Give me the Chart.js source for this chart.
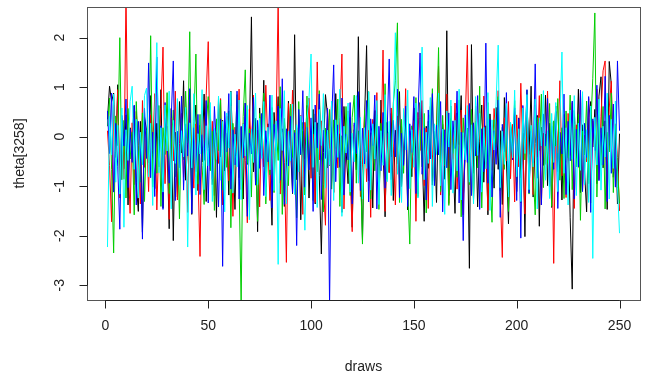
<!DOCTYPE html>
<html>
<head>
<meta charset="utf-8">
<script src="https://cdn.jsdelivr.net/npm/chart.js@4.4.1/dist/chart.umd.min.js"></script>
<style>
  body { margin: 0; background: #fff; }
  canvas { display: block; }
</style>
</head>
<body>
<canvas id="myChart" width="652" height="381"></canvas>
<script>
// trace of theta[3258], 5 chains x 250 draws
const xTicks = [0, 50, 100, 150, 200, 250];
const yTicks = [-3, -2, -1, 0, 1, 2];
const chainColors = ['#000000', '#ff0000', '#00cd00', '#0000ff', '#00ffff'];

const chain1 = [
  0.35, 1.02, 0.71, 0.88, -0.42, 1.05, -1.12, 0.21, -0.65, 0.44, -1.38, 0.18, -0.05, 0.62, -0.92, -1.51, 0.31, -1.93, 0.40, 0.12, -0.48, 0.83, -0.36, -1.05, 0.27,
  -0.61, 0.95, -1.44, 0.38, -0.19, -1.86, 0.57, -2.10, 0.09, -1.22, 0.71, -0.33, 1.13, -0.88, -0.15, 0.46, -1.57, -0.02, 0.64, -1.09, 0.23, -0.51, 0.86, -1.31, -0.24,
  0.52, -0.97, 0.15, -1.63, 0.78, -0.41, 0.33, -0.69, 0.07, -1.18, 0.92, -0.29, -1.47, 0.41, -0.83, 0.19, -1.26, 0.68, -0.56, 0.04, 2.42, -0.71, 0.37, -1.92, 0.58,
  -0.38, 1.14, -1.02, 0.26, -0.63, -1.79, 0.49, -0.12, 0.81, -0.94, 0.16, -1.41, -0.53, 0.72, -0.21, -1.15, 2.06, -0.87, 0.34, -1.68, 0.11, -0.45, 0.63, -1.24, -0.07,
  0.55, -1.36, 0.28, -0.79, -2.37, -0.32, 0.85, 0.43, -0.58, 0.19, -1.12, 0.87, -0.44, 0.06, -1.53, 0.61, -0.26, -0.95, 0.39, -1.83, 0.14, -0.67, 2.02, -0.48, -2.08,
  0.32, 1.84, -0.89, 0.08, -1.44, 0.53, -0.37, -1.07, 0.74, -0.18, -1.62, 0.29, -0.72, 0.47, -1.29, 0.13, -0.55, 0.91, -1.01, -0.23, 0.36, -1.48, 0.02, -0.81, 0.58,
  -0.43, -1.16, 0.69, -0.27, -1.71, 0.21, -0.64, 0.44, -0.98, 0.11, -1.33, 0.76, -0.52, 0.25, -0.86, 2.14, -1.19, 0.37, -0.41, -1.55, 0.48, -0.16, 0.83, -1.27, -0.34,
  0.17, -2.66, 1.86, -0.74, 0.31, -1.42, -0.09, 0.64, -0.92, 0.22, -1.58, 0.46, -0.31, -1.04, 0.59, -0.66, 0.12, -1.37, 0.79, -0.47, -1.76, 0.26, -0.19, 0.51, -1.11,
  0.38, -0.83, 0.07, -2.02, 0.68, -0.36, 1.02, -1.22, -0.14, 0.43, -1.81, 0.19, -0.58, 0.84, -0.99, 0.27, -1.43, -0.25, 0.62, -0.71, 0.09, -1.28, 0.45, -0.52, 0.18,
  -1.64, -3.08, 0.53, -0.44, 0.96, -1.13, 0.24, -0.69, -1.52, 0.39, 0.71, -0.21, 0.55, -0.95, 0.82, 1.21, -0.63, 0.32, -1.47, 1.52, 1.06, -0.82, 0.14, -1.36, 0.06
];
const chain2 = [
  0.12, -0.58, -1.72, 0.64, -0.31, 0.95, -1.24, 0.37, -0.86, 2.90, -0.43, -1.55, 0.28, -0.97, 0.51, -0.18, -1.36, 0.73, -0.62, 0.06, -1.11, 0.44, -0.29, 0.87, -1.48,
  -0.07, 0.59, 1.81, -0.95, 0.21, -1.67, 0.38, -0.49, 0.92, -1.28, -0.14, 0.47, -0.82, 0.15, -1.53, 0.69, -0.36, -1.04, 0.26, -0.71, -2.42, 0.53, -0.22, 0.83, 1.92,
  -0.66, 0.31, -1.19, 0.08, -0.54, 0.77, -1.38, -0.12, 0.41, -0.89, 0.62, -1.61, 0.19, -0.33, 0.96, -1.07, 0.27, -0.48, -1.74, 0.55, -0.25, 0.84, -0.93, 0.13, -1.42,
  0.36, -0.61, 1.04, -0.17, -1.29, 0.48, -0.76, 0.22, 2.75, -1.16, 0.09, -0.52, -2.54, 0.67, -0.38, 0.94, -1.02, 0.18, -0.69, 0.43, -1.57, 0.29, -0.11, 0.78, -0.84,
  0.05, -1.33, 1.51, -0.47, 0.32, -0.96, -1.79, 0.58, -0.24, 0.71, -1.14, 0.16, -0.63, 0.39, 1.67, -1.46, -0.08, 0.52, -0.78, -1.92, 0.24, -0.35, 0.81, -1.21, -0.57,
  0.46, -0.91, 0.13, -1.63, 0.35, -0.42, 0.89, -1.09, -0.26, 1.75, -1.51, 0.07, -0.73, 0.58, -0.19, -1.38, 0.42, -0.87, 0.21, -0.55, 0.97, -1.24, 0.11, -0.64, 0.33,
  -1.71, 0.49, -0.28, 0.73, -0.99, 0.17, -1.45, 0.61, -0.37, -0.83, 0.28, 1.42, -1.18, 0.04, -0.59, 0.86, -1.35, 0.23, -0.46, 0.68, -1.06, -0.21, 0.54, -1.58, 0.31,
  1.85, -0.77, 0.14, -1.27, 0.62, -0.53, 0.35, -1.03, 0.82, -0.32, -1.49, 0.19, -0.68, 0.57, -0.14, 0.93, -1.12, -2.44, 0.38, -0.49, 0.71, -0.85, 0.25, -1.32, 0.44,
  -0.61, 1.08, -0.27, -1.56, 0.36, -0.72, 0.15, -1.17, 0.64, -0.41, 0.83, -1.38, 0.07, -0.56, 0.92, -0.94, 0.29, -2.56, 0.51, -0.33, 1.13, -0.79, 0.18, -1.23, 0.47,
  -0.38, 0.69, -1.45, 0.24, -0.62, 0.88, -1.09, 0.03, -0.51, 0.77, -1.34, 0.32, -0.18, 0.96, -0.87, 0.41, 1.33, 1.53, -1.26, 0.58, 1.12, -0.71, 0.26, -0.42, -1.50
];
const chain3 = [
  0.21, 0.78, -0.66, -2.35, 0.42, -0.18, 2.00, -0.87, 0.33, -1.24, 0.57, -0.45, 0.09, -1.58, 0.71, -0.29, -0.92, 0.48, -1.31, 0.14, -0.53, 2.04, -1.02, 0.26, -0.74,
  0.63, -1.41, 0.18, -0.36, 0.89, -1.15, -0.22, 0.54, -0.81, 0.07, -1.66, 0.38, -0.47, 0.92, -0.13, 2.12, -1.27, 0.31, 1.67, -0.96, 0.45, -0.58, -1.37, 0.22, 0.81,
  -0.69, 0.11, -1.49, 0.36, -0.28, 0.74, -1.08, 0.19, -0.62, 0.52, -1.84, 0.27, -0.39, 0.85, -0.91, -3.40, 0.41, 1.35, -0.54, 0.16, -1.22, 0.63, -0.33, -1.71, 0.47,
  -0.19, 0.88, -1.36, 0.05, -0.77, 0.59, -1.13, 0.24, -0.48, 1.01, -1.57, 0.37, -0.25, -0.99, 0.66, -0.42, 0.13, -1.64, 0.71, -0.37, 0.29, -1.18, 0.82, -0.56, 0.08,
  -1.29, 0.46, -0.71, 0.93, -0.35, -1.52, 0.17, -0.63, 0.55, -1.06, 0.34, -0.24, 0.76, -1.41, 0.02, -0.83, 0.61, -0.47, -1.19, 0.39, 0.84, -0.94, 0.12, -0.58, -2.17,
  0.53, -0.31, 0.91, -1.26, 0.18, -0.69, 0.44, -1.47, 0.27, -0.52, 1.07, -0.86, 0.09, -0.41, 0.68, 1.13, 2.30, -1.33, 0.35, -0.74, 0.57, -1.05, -2.17, 0.22, -0.38,
  0.79, -1.21, 0.14, -0.61, 0.47, -1.54, 0.31, -0.26, 0.97, -0.89, 0.06, 1.80, -1.11, 0.43, -0.57, 0.25, -1.39, 0.62, -0.34, 0.11, -0.82, 0.74, -1.62, 0.38, -0.45,
  0.16, -0.97, 0.55, -1.28, 0.29, -0.63, 1.02, -1.44, 0.07, -0.51, 0.69, -0.84, -1.73, 0.34, -0.22, 0.81, -1.09, 0.19, -0.66, 0.46, -1.51, 0.28, -0.36, 0.73, -0.92,
  0.13, -1.34, 0.58, -0.47, 0.94, -1.16, 0.21, -0.72, -1.58, 0.39, -0.28, 0.86, -1.03, 0.05, -0.54, 0.67, -1.41, 0.32, -0.19, 0.77, -0.88, 0.18, -1.25, 0.52, -0.43,
  0.84, -1.07, 0.26, -0.61, 0.45, -1.69, 0.11, -0.37, 0.72, -0.95, 0.18, 1.18, 2.50, -1.22, 0.34, -0.58, 0.61, -1.46, 0.09, -0.31, 0.88, -1.13, 0.23, -0.67, -1.35
];
const chain4 = [
  0.52, -0.34, 0.88, -1.12, 0.27, -0.61, -1.87, 0.43, -0.19, 0.76, -1.03, 0.15, -0.52, 0.64, -1.38, 0.31, -0.27, -2.07, 0.58, -0.44, 1.49, -0.83, 0.09, -1.21, 1.61,
  -0.56, 0.22, -1.47, 0.69, -0.15, -0.94, 0.37, 1.53, -1.29, 0.11, -0.63, 0.82, -1.08, 0.26, -0.39, 0.97, -1.55, 0.18, -0.71, 0.45, -1.17, 0.04, -0.48, 0.73, -1.34,
  0.29, -0.86, 0.61, -0.22, -1.42, 0.36, -2.62, 0.51, -0.31, 0.87, -1.06, 0.14, -0.57, 0.92, -1.26, 0.21, -0.43, 0.68, -1.61, 0.07, -0.35, 0.79, -0.98, 0.33, -0.64,
  0.47, -1.19, 0.12, -0.51, 0.84, -1.44, 0.25, -0.29, 0.62, -0.88, 1.17, -1.37, 0.16, -0.59, 0.41, -1.13, 0.08, -2.20, 0.55, -0.36, 0.93, -1.02, 0.19, -0.67, 0.38,
  -1.51, 0.64, -0.23, 0.86, -1.27, 0.13, -0.44, 0.57, -3.40, 0.32, 1.45, -0.91, 0.24, -0.62, 0.78, -1.18, 0.05, -0.47, 0.69, -1.36, 0.28, -0.34, 0.91, -1.09, 0.17,
  -0.55, 0.73, -1.32, 0.36, -0.18, 0.84, -1.46, 0.21, -0.69, 0.49, -1.04, 0.11, 1.57, -0.87, 0.33, -0.41, 0.96, -1.23, 0.07, -0.58, 0.62, -1.41, 0.26, -0.32, 0.81,
  -1.15, 0.39, 1.69, -0.76, 0.18, -1.28, 0.54, -0.45, 0.87, -0.99, 0.23, -0.37, 0.71, -1.52, 0.14, -0.63, 0.48, -1.07, 0.32, -0.24, 0.92, -1.34, 0.09, -2.10, 0.44,
  -0.52, 0.67, -1.19, 0.28, -0.39, 0.83, -1.47, 0.16, -0.71, 1.89, -0.94, 0.35, -1.22, 0.12, -0.56, 0.74, -1.63, 0.25, -0.31, 0.89, -1.08, 0.19, -0.47, 0.58, -1.29,
  0.37, -2.05, 0.63, -0.26, 0.95, -1.14, 0.11, -0.53, 1.47, -0.84, 0.29, -1.38, 0.46, -0.19, 0.77, -1.01, 0.22, -0.66, 0.51, -1.45, 0.08, -0.35, 0.86, -1.17, 0.31,
  -0.49, 0.72, -1.26, 0.15, -0.61, 0.94, -1.11, 0.27, -0.42, 0.81, -1.53, 0.36, -0.28, 1.04, -0.89, 0.18, -0.57, 1.22, -1.31, 0.43, -0.74, 0.66, -1.02, 1.53, 0.12
];
const chain5 = [
  -2.23, 0.41, -0.37, 0.86, -0.92, 0.23, -1.16, 0.58, -1.83, 0.14, -0.48, 0.71, 1.02, -0.66, 0.35, -1.24, 0.09, -0.57, 0.83, 0.98, -0.81, 0.27, -1.39, 0.46, 1.90,
  -0.73, 0.18, -1.12, 0.64, -0.29, 0.92, -1.46, 0.33, -0.54, 0.77, -0.98, 0.12, -0.41, 0.59, -2.23, 0.28, -0.63, 0.87, -1.18, 0.06, -0.35, 0.95, -1.07, 0.22, -0.59,
  0.69, -1.31, 0.17, -0.46, 0.82, -0.88, 0.31, -1.52, 0.48, -0.23, 0.91, -1.14, 0.05, -0.61, 0.74, -1.27, 0.26, -0.39, 0.63, -1.68, 0.15, -0.52, 0.88, -0.97, 0.37,
  -0.44, 0.71, -1.21, 0.19, -0.67, 0.84, -1.09, 0.32, -2.58, 0.57, -0.28, 0.93, -1.36, 0.11, -0.49, 0.66, -1.17, 0.24, -0.71, 0.42, -0.83, -1.89, 0.36, 0.78, 1.67,
  -0.62, 0.29, -1.43, 0.55, -0.18, 0.87, -1.04, 0.13, -0.57, 0.72, -1.29, 0.34, -0.42, 0.96, -1.61, 0.21, -0.33, 0.68, -1.12, 0.07, -0.51, 0.83, -0.94, 0.39, -1.26,
  0.18, -0.64, 0.91, -1.08, 0.26, -0.45, 0.73, -1.37, 0.12, -0.58, 0.85, -0.91, 0.31, -1.19, 0.49, 2.10, -0.76, 0.22, -1.33, 0.57, -0.27, 0.94, -1.05, 0.14, -0.62,
  0.68, -1.24, 0.37, 1.81, -0.87, 0.09, -0.54, 0.79, -1.41, 0.26, -0.36, 0.88, -0.99, 0.15, -1.57, 0.52, -0.21, 0.74, -1.14, 0.33, -0.69, 0.96, -1.28, 0.08, -0.47,
  0.63, -0.92, 0.24, -1.36, 0.81, -0.38, 0.47, -1.12, 0.19, -0.65, 0.89, -1.49, 0.34, -0.27, 0.72, 1.85, -1.03, 0.11, -0.56, 0.67, -1.22, 0.29, -0.43, 0.94, -0.81,
  0.16, -1.31, 0.58, -0.34, 0.85, -1.07, 0.23, -0.61, 0.76, -1.46, 0.38, -0.19, 0.93, -0.88, 0.12, -1.25, 0.47, -0.52, 0.69, -1.11, 0.31, 1.71, -0.74, 0.18, -1.38,
  0.54, -0.46, 0.83, -1.19, 0.27, -0.68, 0.91, -0.97, 0.14, -1.33, 0.62, -2.46, 0.39, -0.57, 0.76, -1.08, 0.21, -0.41, 0.88, -1.26, 0.35, -0.64, 0.72, -1.02, -1.95
];
const chains = [chain1, chain2, chain3, chain4, chain5];

const draws = chain1.map((v, i) => i + 1);

const txtFont = '14px "Liberation Sans", Arial, sans-serif';

// R style box, axes and labels
const rAxes = {
    id: 'rAxes',
    afterDraw(chart) {
        const ctx = chart.ctx;
        const a = chart.chartArea;
        const xs = chart.scales.x, ys = chart.scales.y;
        ctx.save();
        ctx.strokeStyle = '#555';
        ctx.lineWidth = 1;
        ctx.strokeRect(Math.round(a.left) + 0.5, Math.round(a.top) + 0.5,
            Math.round(a.right - a.left), Math.round(a.bottom - a.top));

        ctx.strokeStyle = '#222';
        ctx.fillStyle = '#222';
        ctx.font = txtFont;
        ctx.textAlign = 'center';
        ctx.textBaseline = 'middle';

        // x axis
        const bx = Math.round(a.bottom) + 0.5;
        ctx.beginPath();
        ctx.moveTo(xs.getPixelForValue(xTicks[0]), bx);
        ctx.lineTo(xs.getPixelForValue(xTicks[xTicks.length - 1]), bx);
        xTicks.forEach(t => {
            const px = Math.round(xs.getPixelForValue(t)) + 0.5;
            ctx.moveTo(px, bx);
            ctx.lineTo(px, bx + 8);
        });
        ctx.stroke();
        xTicks.forEach(t => ctx.fillText(String(t), xs.getPixelForValue(t), 326));
        ctx.fillText('draws', (a.left + a.right) / 2, 367);

        // y axis
        const lx = Math.round(a.left) + 0.5;
        ctx.beginPath();
        ctx.moveTo(lx, ys.getPixelForValue(yTicks[0]));
        ctx.lineTo(lx, ys.getPixelForValue(yTicks[yTicks.length - 1]));
        yTicks.forEach(t => {
            const py = Math.round(ys.getPixelForValue(t)) + 0.5;
            ctx.moveTo(lx, py);
            ctx.lineTo(lx - 8, py);
        });
        ctx.stroke();
        yTicks.forEach(t => {
            ctx.save();
            ctx.translate(60, ys.getPixelForValue(t));
            ctx.rotate(-Math.PI / 2);
            ctx.fillText(String(t), 0, 0);
            ctx.restore();
        });
        ctx.save();
        ctx.translate(20, (a.top + a.bottom) / 2);
        ctx.rotate(-Math.PI / 2);
        ctx.fillText('theta[3258]', 0, 0);
        ctx.restore();
        ctx.restore();
    }
};

const data = {
    datasets: chains.map((c, i) => ({
        label: 'chain ' + (i + 1),
        data: c.map((v, j) => ({ x: draws[j], y: v })),
        borderColor: chainColors[i],
        borderWidth: 1,
        pointRadius: 0,
        tension: 0,
        fill: false,
        order: chains.length - i
    }))
};

const config = {
    type: 'line',
    data: data,
    options: {
        responsive: false,
        animation: false,
        devicePixelRatio: 1,
        layout: { padding: { left: 87, top: 7, right: 12, bottom: 81 } },
        plugins: { legend: { display: false }, tooltip: { enabled: false } },
        scales: {
            x: { type: 'linear', min: -8.96, max: 259.96, display: false },
            y: { min: -3.30, max: 2.62, display: false }
        }
    },
    plugins: [rAxes]
};

let myChart = new Chart(document.getElementById('myChart'), config);
</script>
</body>
</html>
